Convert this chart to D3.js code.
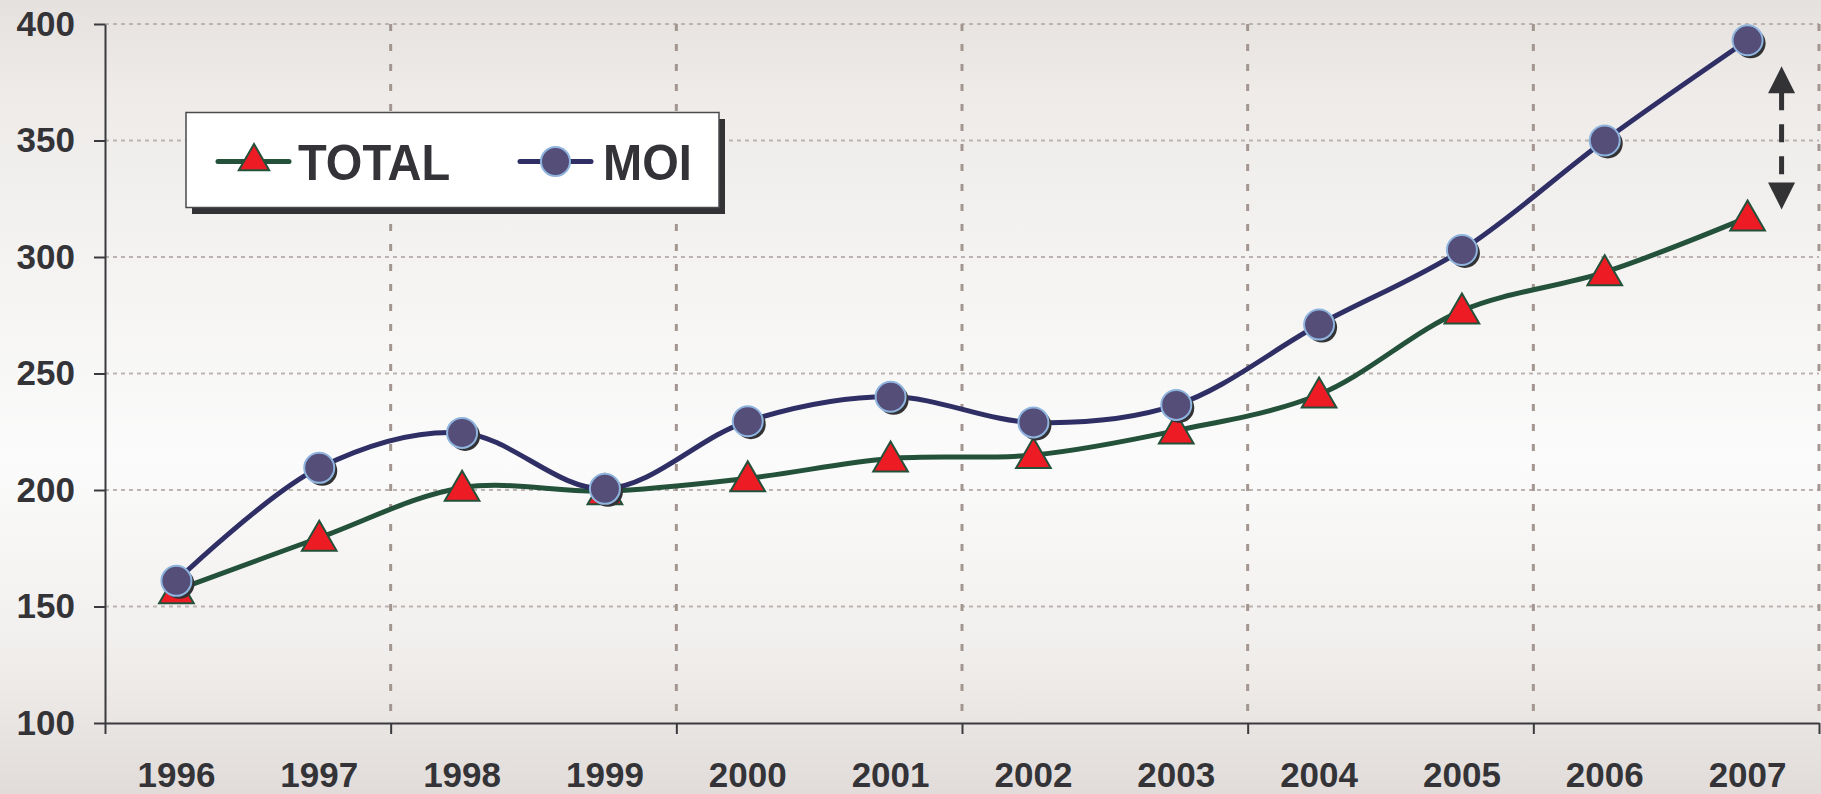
<!DOCTYPE html>
<html>
<head>
<meta charset="utf-8">
<script src="https://cdn.jsdelivr.net/npm/d3@7"></script>
<style>
  body { margin: 0; background: #fff; }
  text { font-family: "Liberation Sans", Arial, sans-serif; font-weight: bold; fill: #343438; }
</style>
</head>
<body>
<div id="chart"></div>
<script>
const years = ["1996", "1997", "1998", "1999", "2000", "2001", "2002", "2003", "2004", "2005", "2006", "2007"];
const totalValues = [157, 179.5, 201, 199.5, 205, 213.5, 215, 225.5, 241, 277, 293.5, 317];
const moiValues = [161, 209.5, 224.5, 200.5, 229.5, 240, 229, 236.5, 271, 303, 350, 393];
const yTicks = [100, 150, 200, 250, 300, 350, 400];
const seriesNames = ["TOTAL", "MOI"];

const width = 1821, height = 794;
const margin = {top: 24, right: 2, bottom: 71, left: 105};
const colors = {
    totalLine: "#23513a", triFill: "#ed1c24",
    moiLine: "#2f2f66", dotFill: "#544e78", dotStroke: "#8fb4de",
    axis: "#3a3a3e", hGrid: "#bdb3b0", vGrid: "#a3958f", shadow: "#333336"
};

const svg = d3.select("#chart").append("svg")
    .attr("width", width)
    .attr("height", height);

// background gradient
const defs = svg.append("defs");
const grad = defs.append("linearGradient")
    .attr("id", "bg").attr("x1", 0).attr("y1", 0).attr("x2", 0).attr("y2", 1);
[[0, "#e5e1de"], [0.12, "#eeebe9"], [0.3, "#f3f2f0"], [0.58, "#fbfbfb"], [0.8, "#f2f0ee"], [1, "#e1dcd9"]]
    .forEach(s => grad.append("stop").attr("offset", s[0]).attr("stop-color", s[1]));
svg.append("rect").attr("width", width).attr("height", height).attr("fill", "url(#bg)");

const x = d3.scaleBand().domain(years).range([margin.left, width - margin.right]);
const xEdge = d3.scaleLinear().domain([0, years.length]).range([margin.left, width - margin.right]);
const y = d3.scaleLinear().domain([100, 400]).range([height - margin.bottom, margin.top]);
const cx = d => x(d) + x.bandwidth() / 2;

// horizontal grid
svg.append("g")
    .selectAll("line")
    .data(yTicks.slice(1))
    .join("line")
    .attr("x1", margin.left).attr("x2", width - margin.right)
    .attr("y1", d => y(d)).attr("y2", d => y(d))
    .attr("stroke", colors.hGrid)
    .attr("stroke-width", 2)
    .attr("stroke-dasharray", "4,4");

// vertical grid, every two years
const edgeTicks = d3.range(0, years.length + 1, 2);
svg.append("g")
    .selectAll("line")
    .data(edgeTicks.slice(1))
    .join("line")
    .attr("x1", d => xEdge(d)).attr("x2", d => xEdge(d))
    .attr("y1", y(400)).attr("y2", y(100))
    .attr("stroke", colors.vGrid)
    .attr("stroke-width", 3)
    .attr("stroke-dasharray", "7,13");

// axes
const yAxis = svg.append("g")
    .attr("transform", `translate(${margin.left},0)`)
    .call(d3.axisLeft(y).tickValues(yTicks).tickSize(11).tickPadding(19).tickSizeOuter(0));
yAxis.selectAll("text").attr("font-size", 35).attr("font-family", "Liberation Sans, Arial, sans-serif").attr("fill", "#343438");

svg.append("g")
    .attr("transform", `translate(0,${y(100)})`)
    .call(d3.axisBottom(xEdge).tickValues(edgeTicks).tickFormat("").tickSize(11).tickSizeOuter(0));

const xAxisLabels = svg.append("g")
    .attr("transform", `translate(0,${y(100)})`)
    .call(d3.axisBottom(x).tickSize(0).tickPadding(39));
xAxisLabels.select(".domain").remove();
xAxisLabels.selectAll("text").attr("font-size", 35).attr("font-family", "Liberation Sans, Arial, sans-serif").attr("fill", "#343438");

svg.selectAll(".domain, .tick line").attr("stroke", colors.axis).attr("stroke-width", 2);

// lines
const line = d3.line()
    .x((d, i) => cx(years[i]))
    .y(d => y(d))
    .curve(d3.curveCatmullRom.alpha(0.5));

svg.append("path").datum(totalValues)
    .attr("d", line).attr("fill", "none")
    .attr("stroke", colors.totalLine).attr("stroke-width", 5).attr("stroke-linejoin", "round");
svg.append("path").datum(moiValues)
    .attr("d", line).attr("fill", "none")
    .attr("stroke", colors.moiLine).attr("stroke-width", 5).attr("stroke-linejoin", "round");

// markers
const tri = d3.symbol().type(d3.symbolTriangle).size(520);
svg.append("g").selectAll("path")
    .data(totalValues)
    .join("path")
    .attr("d", tri)
    .attr("transform", (d, i) => `translate(${cx(years[i])},${y(d) + 3})`)
    .attr("fill", colors.triFill)
    .attr("stroke", colors.totalLine)
    .attr("stroke-width", 2);

const dots = svg.append("g");
dots.selectAll(".shadow")
    .data(moiValues)
    .join("circle")
    .attr("class", "shadow")
    .attr("cx", (d, i) => cx(years[i]) + 3)
    .attr("cy", d => y(d) + 3)
    .attr("r", 15)
    .attr("fill", colors.shadow);
dots.selectAll(".dot")
    .data(moiValues)
    .join("circle")
    .attr("class", "dot")
    .attr("cx", (d, i) => cx(years[i]))
    .attr("cy", d => y(d))
    .attr("r", 15)
    .attr("fill", colors.dotFill)
    .attr("stroke", colors.dotStroke)
    .attr("stroke-width", 2);

// double arrow between the 2007 values
const last = years.length - 1;
const ax = cx(years[last]) + 34;
const aTop = y(moiValues[last]) + 26;
const aBot = y(totalValues[last]) - 8;
svg.append("line")
    .attr("x1", ax).attr("x2", ax)
    .attr("y1", aTop + 26).attr("y2", aBot - 26)
    .attr("stroke", colors.shadow).attr("stroke-width", 5)
    .attr("stroke-dasharray", "18,14");
svg.append("path")
    .attr("d", `M${ax},${aTop} L${ax - 13.5},${aTop + 27} L${ax + 13.5},${aTop + 27} Z`)
    .attr("fill", colors.shadow);
svg.append("path")
    .attr("d", `M${ax},${aBot} L${ax - 13.5},${aBot - 27} L${ax + 13.5},${aBot - 27} Z`)
    .attr("fill", colors.shadow);

// legend
const legendW = 533, legendH = 95;
const legend = svg.append("g").attr("transform", "translate(186,112.5)");
legend.append("rect").attr("x", 6).attr("y", 6.5).attr("width", legendW).attr("height", legendH).attr("fill", colors.shadow);
legend.append("rect").attr("width", legendW).attr("height", legendH).attr("fill", "#fff")
    .attr("stroke", "#4a4a4e").attr("stroke-width", 1.5);

const legendItems = legend.selectAll(".item")
    .data(seriesNames)
    .join("g")
    .attr("class", "item")
    .attr("transform", (d, i) => `translate(${i === 0 ? 32 : 334},49)`);

legendItems.append("line")
    .attr("x1", 0).attr("x2", 71)
    .attr("stroke", (d, i) => i === 0 ? colors.totalLine : colors.moiLine)
    .attr("stroke-width", 5).attr("stroke-linecap", "round");

const legendTri = d3.symbol().type(d3.symbolTriangle).size(400);
legendItems.filter((d, i) => i === 0).append("path")
    .attr("d", legendTri)
    .attr("transform", "translate(36,0)")
    .attr("fill", colors.triFill)
    .attr("stroke", colors.totalLine)
    .attr("stroke-width", 2);
legendItems.filter((d, i) => i === 1).append("circle")
    .attr("cx", 35.5).attr("r", 14.5)
    .attr("fill", colors.dotFill)
    .attr("stroke", colors.dotStroke)
    .attr("stroke-width", 2);

legendItems.append("text")
    .attr("x", 0)
    .attr("y", 0)
    .attr("transform", (d, i) => `translate(${i === 0 ? 80 : 83},18) scale(1,1.07)`)
    .attr("font-size", 47)
    .text(d => d);
</script>
</body>
</html>
